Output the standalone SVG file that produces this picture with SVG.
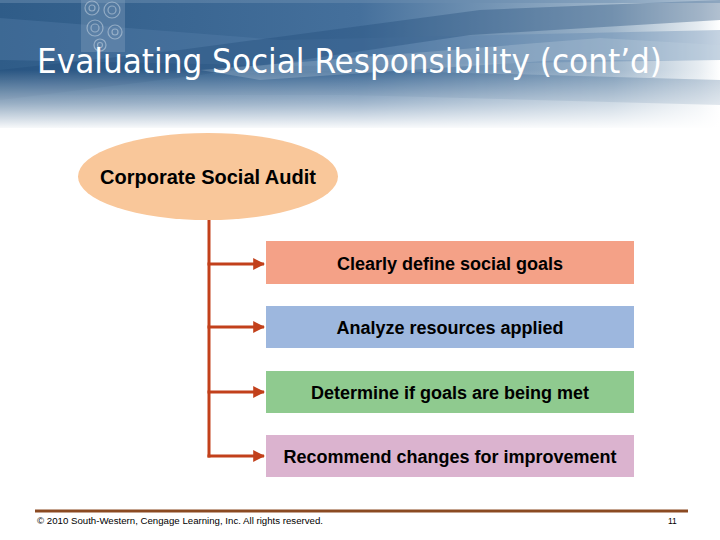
<svg xmlns="http://www.w3.org/2000/svg" width="720" height="540" viewBox="0 0 720 540">
  <defs>
    <linearGradient id="hdr" x1="0" y1="0" x2="1" y2="0">
      <stop offset="0" stop-color="#2f5c88"/>
      <stop offset="0.5" stop-color="#45709c"/>
      <stop offset="0.85" stop-color="#9fb6cb"/>
      <stop offset="0.97" stop-color="#e6ecf1"/>
      <stop offset="1" stop-color="#ffffff"/>
    </linearGradient>
    <linearGradient id="fade" x1="0" y1="0" x2="0" y2="1">
      <stop offset="0" stop-color="#ffffff" stop-opacity="0"/>
      <stop offset="0.55" stop-color="#ffffff" stop-opacity="0.5"/>
      <stop offset="1" stop-color="#ffffff" stop-opacity="1"/>
    </linearGradient>
    <marker id="arrow" viewBox="0 0 10 10" refX="9" refY="5" markerWidth="4" markerHeight="4" markerUnits="strokeWidth" orient="auto">
      <path d="M0,0 L10,5 L0,10 z" fill="#c2401b"/>
    </marker>
    <style>
      .node text{font-family:"Liberation Sans",Arial,sans-serif;font-weight:bold;font-size:18px;fill:#000;text-anchor:middle}
      .conn{stroke:#c2401b;stroke-width:3;fill:none}
      .foot{font-family:"Liberation Sans",Arial,sans-serif;font-size:8.5px;fill:#000}
    </style>
  </defs>
  <rect width="720" height="540" fill="#ffffff"/>
  <g id="header">
    <rect x="0" y="0" width="720" height="128" fill="url(#hdr)"/>
    <polygon points="0,18 280,40 720,30 720,60 300,66 0,60" fill="#5a82ab" opacity="0.35"/>
    <polygon points="0,70 180,50 480,10 720,0 720,20 470,35 200,75 0,100" fill="#1f4a78" opacity="0.35"/>
    <polygon points="0,80 360,70 720,80 720,105 350,95 0,95" fill="#2b5a88" opacity="0.3"/>
    <polygon points="200,70 600,38 720,45 720,60 560,60 260,80" fill="#c8d6e3" opacity="0.25"/>
    <rect x="0" y="0" width="720" height="3" fill="#6b8db0" opacity="0.5"/>
    <g fill="none" stroke="#b9cadb" stroke-width="1.2" opacity="0.7">
      <rect x="81" y="0" width="44" height="52" fill="#7f9dbc" stroke="none" opacity="0.6"/>
      <circle cx="92" cy="8" r="7"/><circle cx="92" cy="8" r="3"/>
      <circle cx="112" cy="10" r="8"/><circle cx="112" cy="10" r="4"/>
      <circle cx="95" cy="28" r="8"/><circle cx="95" cy="28" r="4"/>
      <circle cx="115" cy="32" r="7"/><circle cx="115" cy="32" r="3"/>
      <circle cx="100" cy="45" r="6"/><circle cx="100" cy="45" r="2.5"/>
    </g>
    <rect x="0" y="70" width="720" height="60" fill="url(#fade)"/>
    <text x="37" y="73" font-family="'DejaVu Sans Condensed','DejaVu Sans',Verdana,sans-serif" font-stretch="condensed" font-size="34" fill="#ffffff" textLength="625" lengthAdjust="spacingAndGlyphs">Evaluating Social Responsibility (cont’d)</text>
  </g>
  <g id="connectors">
    <line class="conn" x1="209" y1="219" x2="209" y2="457.5"/>
    <line class="conn" x1="207.5" y1="264" x2="264" y2="264" marker-end="url(#arrow)"/>
    <line class="conn" x1="207.5" y1="327" x2="264" y2="327" marker-end="url(#arrow)"/>
    <line class="conn" x1="207.5" y1="392" x2="264" y2="392" marker-end="url(#arrow)"/>
    <line class="conn" x1="207.5" y1="456" x2="264" y2="456" marker-end="url(#arrow)"/>
  </g>
  <g id="audit" class="node">
    <ellipse cx="208" cy="176.5" rx="130" ry="43.5" fill="#f9c79a"/>
    <text x="208" y="184" style="font-size:20px">Corporate Social Audit</text>
  </g>
  <g id="goals" class="node">
    <rect x="266" y="241" width="368" height="43" fill="#f4a187"/>
    <text x="450" y="270">Clearly define social goals</text>
  </g>
  <g id="resources" class="node">
    <rect x="266" y="306" width="368" height="42" fill="#9db7de"/>
    <text x="450" y="334">Analyze resources applied</text>
  </g>
  <g id="met" class="node">
    <rect x="266" y="371" width="368" height="42" fill="#8fca8f"/>
    <text x="450" y="399">Determine if goals are being met</text>
  </g>
  <g id="improve" class="node">
    <rect x="266" y="435" width="368" height="42" fill="#dbb3cf"/>
    <text x="450" y="463">Recommend changes for improvement</text>
  </g>
  <g id="footer">
    <rect x="35" y="509.5" width="653" height="3" fill="#8b4a22"/>
    <text class="foot" x="37" y="524" textLength="286" lengthAdjust="spacingAndGlyphs">© 2010 South-Western, Cengage Learning, Inc. All rights reserved.</text>
    <text class="foot" x="668" y="524">11</text>
  </g>
</svg>
